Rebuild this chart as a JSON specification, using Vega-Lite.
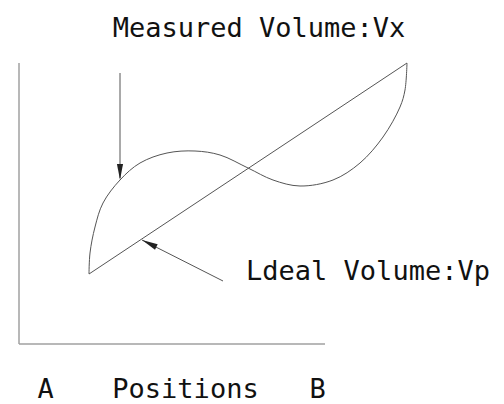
{
  "$schema": "https://vega.github.io/schema/vega-lite/v6.json",
  "width": 504,
  "height": 404,
  "autosize": {"type": "fit", "contains": "padding"},
  "padding": 0,
  "background": "white",
  "config": {"view": {"stroke": null}},
  "datasets": {
    "axes": [
      {"x": 0, "y": 0, "x2": 0, "y2": 281},
      {"x": 0, "y": 0, "x2": 306, "y2": 0}
    ],
    "ideal": [
      {"x": 70, "y": 70},
      {"x": 388, "y": 281}
    ],
    "measured": [
      {"i": 1, "x": 70, "y": 70},
      {"i": 2, "x": 71, "y": 91},
      {"i": 3, "x": 76, "y": 117},
      {"i": 4, "x": 84, "y": 141},
      {"i": 5, "x": 101, "y": 164},
      {"i": 6, "x": 121, "y": 181},
      {"i": 7, "x": 148, "y": 191},
      {"i": 8, "x": 176, "y": 193},
      {"i": 9, "x": 201, "y": 189},
      {"i": 10, "x": 229, "y": 176},
      {"i": 11, "x": 254, "y": 164},
      {"i": 12, "x": 281, "y": 158},
      {"i": 13, "x": 314, "y": 164},
      {"i": 14, "x": 341, "y": 181},
      {"i": 15, "x": 364, "y": 207},
      {"i": 16, "x": 381, "y": 237},
      {"i": 17, "x": 386, "y": 254},
      {"i": 18, "x": 388, "y": 281}
    ],
    "arrows": [
      {"x": 101, "y": 271, "x2": 101, "y2": 166},
      {"x": 204, "y": 63, "x2": 123, "y2": 104}
    ],
    "heads": [
      {"x": 101, "y": 164, "angle": 0},
      {"x": 123, "y": 104, "angle": 116.3}
    ],
    "labels": [
      {"text": "Measured Volume:Vx", "x": 240, "y": 307},
      {"text": "Ldeal Volume:Vp", "x": 349, "y": 64},
      {"text": "A", "x": 26.5, "y": -54},
      {"text": "Positions", "x": 166.5, "y": -54},
      {"text": "B", "x": 298.5, "y": -54}
    ]
  },
  "layer": [
    {
      "data": {"name": "axes"},
      "mark": {"type": "rule", "color": "#a0a0a0", "strokeWidth": 1.5},
      "encoding": {
        "x": {"field": "x", "type": "quantitative", "scale": {"domain": [-19, 485], "nice": false, "zero": false}, "axis": null},
        "y": {"field": "y", "type": "quantitative", "scale": {"domain": [-60, 344], "nice": false, "zero": false}, "axis": null},
        "x2": {"field": "x2"},
        "y2": {"field": "y2"}
      }
    },
    {
      "data": {"name": "ideal"},
      "mark": {"type": "line", "color": "#555555", "strokeWidth": 1},
      "encoding": {
        "x": {"field": "x", "type": "quantitative"},
        "y": {"field": "y", "type": "quantitative"}
      }
    },
    {
      "data": {"name": "measured"},
      "mark": {"type": "line", "color": "#555555", "strokeWidth": 1, "interpolate": "catmull-rom"},
      "encoding": {
        "x": {"field": "x", "type": "quantitative"},
        "y": {"field": "y", "type": "quantitative"},
        "order": {"field": "i", "type": "quantitative"}
      }
    },
    {
      "data": {"name": "arrows"},
      "mark": {"type": "rule", "color": "#555555", "strokeWidth": 1},
      "encoding": {
        "x": {"field": "x", "type": "quantitative"},
        "y": {"field": "y", "type": "quantitative"},
        "x2": {"field": "x2"},
        "y2": {"field": "y2"}
      }
    },
    {
      "data": {"name": "heads"},
      "mark": {"type": "point", "filled": true, "color": "#222222", "opacity": 1, "size": 256, "shape": "M0,0 L-0.38,-2 L0.38,-2 Z"},
      "encoding": {
        "x": {"field": "x", "type": "quantitative"},
        "y": {"field": "y", "type": "quantitative"},
        "angle": {"field": "angle", "type": "quantitative", "scale": null}
      }
    },
    {
      "data": {"name": "labels"},
      "mark": {"type": "text", "font": "DejaVu Sans Mono", "fontSize": 27, "color": "#111111", "align": "center", "baseline": "alphabetic"},
      "encoding": {
        "x": {"field": "x", "type": "quantitative"},
        "y": {"field": "y", "type": "quantitative"},
        "text": {"field": "text", "type": "nominal"}
      }
    }
  ]
}
